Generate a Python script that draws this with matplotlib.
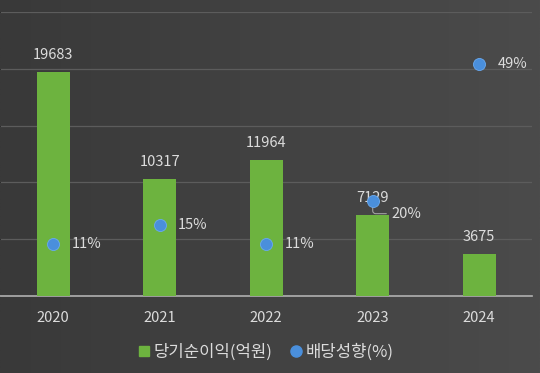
import numpy as np
import matplotlib
matplotlib.use('Agg')
import matplotlib.pyplot as plt

plt.rcParams['font.family'] = ['Noto Sans CJK KR', 'DejaVu Sans']

years = ['2020', '2021', '2022', '2023', '2024']
net_income = [19683, 10317, 11964, 7129, 3675]
payout = [11, 15, 11, 20, 49]

text_col = '#dcdcdc'
bar_col = '#6db33f'
dot_col = '#4a8fdc'

fig = plt.figure(figsize=(5.4, 3.73), dpi=100)

# background gradient
bg = fig.add_axes([0, 0, 1, 1], zorder=-10)
grad = np.linspace(0, 1, 256).reshape(1, -1)
grad = np.vstack([grad, grad])
bg.imshow(grad, aspect='auto', cmap=matplotlib.colors.LinearSegmentedColormap.from_list(
    'g', ['#393939', '#4b4b4b']), extent=[0, 1, 0, 1])
bg.axis('off')

ax = fig.add_axes([0.0, 0.2064, 0.986, 0.7614])
ax.patch.set_alpha(0)
x = np.arange(len(years))
ax.bar(x, net_income, width=0.31, color=bar_col, zorder=3)
ax.set_ylim(0, 25000)
ax.set_xlim(-0.5, len(years) - 0.5)
ax.set_yticks(np.arange(0, 25001, 5000))
ax.yaxis.grid(True, color='#5c5c5c', linewidth=0.9)
ax.set_axisbelow(True)
ax.tick_params(axis='y', left=False, labelleft=False)
ax.tick_params(axis='x', bottom=False, colors=text_col, labelsize=10.5, pad=7)
ax.set_xticks(x)
ax.set_xticklabels(years)
for s in ['top', 'right', 'left']:
    ax.spines[s].set_visible(False)
ax.spines['bottom'].set_color('#b0b0b0')
ax.spines['bottom'].set_linewidth(1.2)

for xi, v in zip(x, net_income):
    ax.text(xi, v + 900, str(v), ha='center', va='bottom', color=text_col, fontsize=10.5)

ax2 = ax.twinx()
ax2.set_ylim(0, 60)
ax2.axis('off')
ax2.scatter(x, payout, s=75, color=dot_col, zorder=5, edgecolors='#6aaaf0', linewidths=0.6)
for xi, p in zip(x, payout):
    if p == 20:
        ax2.annotate(f'{p}%', xy=(xi, p), xytext=(xi + 0.18, p - 2.6), color=text_col,
                     fontsize=10.5, va='center', ha='left',
                     arrowprops=dict(arrowstyle='-', color='#a0a0a0', lw=0.8,
                                     connectionstyle='angle,angleA=0,angleB=90,rad=3'))
    else:
        ax2.text(xi + 0.17, p, f'{p}%', color=text_col, fontsize=10.5, va='center', ha='left')

handles = [plt.Line2D([], [], marker='s', linestyle='', color=bar_col, markersize=7),
           plt.Line2D([], [], marker='o', linestyle='', color=dot_col, markersize=8)]
fig.legend(handles, ['당기순이익(억원)', '배당성향(%)'], loc='center', bbox_to_anchor=(0.49, 0.056),
           ncol=2, frameon=False, fontsize=12, labelcolor=text_col, handletextpad=0.1,
           columnspacing=0.9, handlelength=1.0)

fig.savefig('out.png', dpi=100)
